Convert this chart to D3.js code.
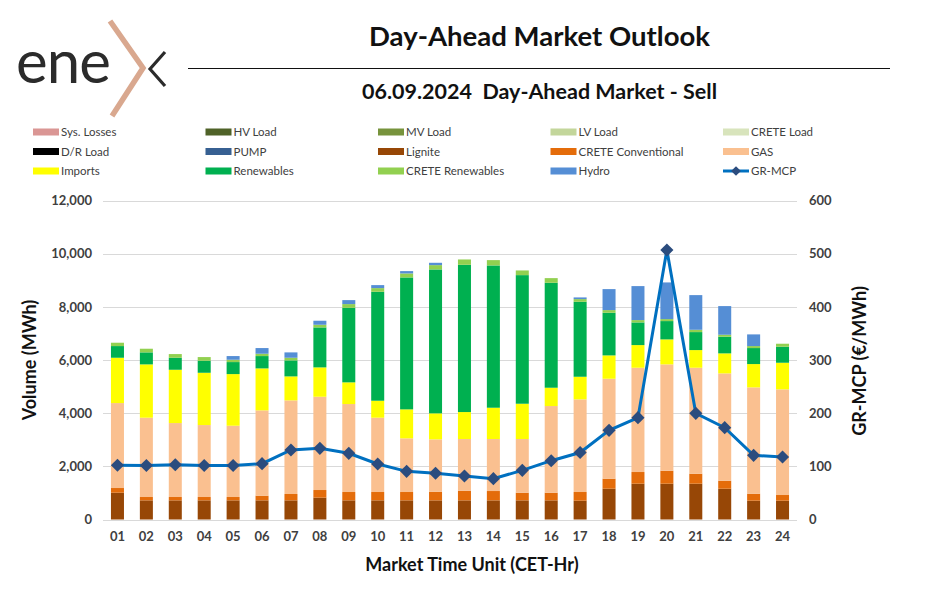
<!DOCTYPE html>
<html><head><meta charset="utf-8">
<script src="https://cdn.jsdelivr.net/npm/d3@7"></script>
<style>
body{margin:0;background:#fff;}
svg{display:block;font-family:"Open Sans",Lato,sans-serif;}
</style></head>
<body><svg id="c" width="950" height="591"></svg>
<script>
const hours = ["01","02","03","04","05","06","07","08","09","10","11","12","13","14","15","16","17","18","19","20","21","22","23","24"];
const sysLosses = new Array(24).fill(0);
const hvLoad = new Array(24).fill(0);
const mvLoad = new Array(24).fill(0);
const lvLoad = new Array(24).fill(0);
const creteLoad = new Array(24).fill(0);
const drLoad = new Array(24).fill(0);
const pump = new Array(24).fill(0);
const lignite = [1008,720,720,720,720,720,720,821,720,720,720,720,720,720,720,720,708,1159,1347,1347,1347,1159,708,708];
const creteConv = [176,126,126,126,126,176,239,288,314,314,314,326,364,351,288,288,326,376,439,489,375,300,263,213];
const gas = [3196,2984,2782,2707,2682,3209,3522,3509,3309,2796,2019,1969,1943,1956,2019,3260,3485,3760,3923,3999,3987,4037,3999,3974];
const imports = [1705,2005,2005,1967,1942,1579,902,1104,816,638,1090,978,1015,1178,1328,689,851,878,852,940,664,753,877,1002];
const renewables = [439,452,452,452,452,464,602,1504,2805,4098,4963,5414,5539,5352,4838,3948,2820,1604,853,689,677,626,602,602];
const creteRen = [126,137,138,138,88,88,100,100,139,138,150,162,201,200,176,175,101,100,87,75,87,75,75,113];
const hydro = [0,0,0,0,138,213,201,151,150,113,88,88,0,0,0,0,63,790,1279,1379,1304,1078,439,0];
const grMcp = [102,101.5,103,101.5,101.5,105,130.7,133.9,124.5,104.4,90.6,86.9,81.8,76.8,92.5,110.6,126,167.7,191.5,506.9,199.7,172.7,120.7,117.5];
const leftTicks = [0,2000,4000,6000,8000,10000,12000];
const rightTicks = [0,100,200,300,400,500,600];

const series = [
  {name:"Lignite", values:lignite, color:"#974706"},
  {name:"CRETE Conventional", values:creteConv, color:"#E46C0A"},
  {name:"GAS", values:gas, color:"#FAC090"},
  {name:"Imports", values:imports, color:"#FFFF00"},
  {name:"Renewables", values:renewables, color:"#00B050"},
  {name:"CRETE Renewables", values:creteRen, color:"#92D050"},
  {name:"Hydro", values:hydro, color:"#558ED5"},
  {name:"Sys. Losses", values:sysLosses, color:"#DA9694"},
  {name:"HV Load", values:hvLoad, color:"#4F6228"},
  {name:"MV Load", values:mvLoad, color:"#77933C"},
  {name:"LV Load", values:lvLoad, color:"#C3D69B"},
  {name:"CRETE Load", values:creteLoad, color:"#D8E4BC"},
  {name:"D/R Load", values:drLoad, color:"#000000"},
  {name:"PUMP", values:pump, color:"#376092"}
];
const legendOrder = ["Sys. Losses","HV Load","MV Load","LV Load","CRETE Load","D/R Load","PUMP","Lignite","CRETE Conventional","GAS","Imports","Renewables","CRETE Renewables","Hydro","GR-MCP"];

const svg = d3.select("#c");
const x0 = 103, x1 = 797, yTop = 200.5, yBot = 519.5;

// Logo
const logo = svg.append("g");
logo.append("text").attr("x",16).attr("y",83).attr("font-family","Lato").attr("font-weight",400)
  .attr("font-size",60).attr("fill","#2b2b2b").attr("letter-spacing",-1).text("ene");
logo.append("path").attr("d","M110,21 L143,68 L112,116").attr("fill","none").attr("stroke","#D9A88F").attr("stroke-width",5.5);
logo.append("path").attr("d","M165,52 L150,69 L165,86").attr("fill","none").attr("stroke","#2b2b2b").attr("stroke-width",3.2);

// Titles
svg.append("text").attr("x",539.5).attr("y",46).attr("text-anchor","middle").attr("font-family","Lato")
  .attr("font-weight",700).attr("font-size",26).attr("fill","#111")
  .attr("textLength",341).attr("lengthAdjust","spacingAndGlyphs").text("Day-Ahead Market Outlook");
svg.append("line").attr("x1",188).attr("x2",890).attr("y1",68.5).attr("y2",68.5).attr("stroke","#111").attr("stroke-width",1.2);
svg.append("text").attr("x",539.5).attr("y",99).attr("text-anchor","middle").attr("font-family","Lato")
  .attr("font-weight",700).attr("font-size",20).attr("fill","#111").attr("xml:space","preserve")
  .attr("textLength",355).attr("lengthAdjust","spacingAndGlyphs").text("06.09.2024  Day-Ahead Market - Sell");

// Scales
const x = d3.scaleBand().domain(hours).range([x0,x1]).paddingInner(0.55).paddingOuter(0.275);
const y = d3.scaleLinear().domain([0,12000]).range([yBot,yTop]);
const y2 = d3.scaleLinear().domain([0,600]).range([yBot,yTop]);

// Gridlines
svg.append("g").selectAll("line").data(leftTicks).join("line")
  .attr("x1",x0).attr("x2",x1).attr("y1",d=>Math.round(y(d))+0.5).attr("y2",d=>Math.round(y(d))+0.5)
  .attr("stroke","#D9D9D9").attr("stroke-width",1);

// Axes
const axL = svg.append("g").attr("transform",`translate(${x0},0)`)
  .call(d3.axisLeft(y).tickValues(leftTicks).tickSize(0).tickPadding(11).tickFormat(d3.format(",")));
const axR = svg.append("g").attr("transform",`translate(${x1},0)`)
  .call(d3.axisRight(y2).tickValues(rightTicks).tickSize(0).tickPadding(12));
const axB = svg.append("g").attr("transform",`translate(0,${yBot})`)
  .call(d3.axisBottom(x).tickSize(0).tickPadding(12));
[axL,axR,axB].forEach(a=>{
  a.select(".domain").remove();
  a.selectAll("text").attr("font-family","Lato").attr("font-weight",700).attr("font-size",13).attr("fill","#404040");
});

// Stacked bars
const table = hours.map((h,i)=>{const o={hour:h}; series.forEach(s=>o[s.name]=s.values[i]); return o;});
const stack = d3.stack().keys(series.map(s=>s.name))(table);
const colorOf = Object.fromEntries(series.map(s=>[s.name,s.color]));
svg.append("g").selectAll("g").data(stack).join("g").attr("fill",d=>colorOf[d.key])
  .selectAll("rect").data(d=>d.filter(p=>p[1]-p[0]>0)).join("rect")
  .attr("x",d=>x(d.data.hour)).attr("width",x.bandwidth())
  .attr("y",d=>y(d[1])).attr("height",d=>y(d[0])-y(d[1]));

// Line
const line = d3.line().x((d,i)=>x(hours[i])+x.bandwidth()/2).y(d=>y2(d));
svg.append("path").datum(grMcp).attr("d",line).attr("fill","none").attr("stroke","#0070C0").attr("stroke-width",3);
const diamond = d3.symbol().type(d3.symbolDiamond2).size(110);
svg.append("g").selectAll("path").data(grMcp).join("path")
  .attr("transform",(d,i)=>`translate(${x(hours[i])+x.bandwidth()/2},${y2(d)})`)
  .attr("d",diamond).attr("fill","#2B4C7E");

// Axis titles
svg.append("text").attr("transform","translate(36,360) rotate(-90)").attr("text-anchor","middle")
  .attr("font-family","Lato").attr("font-weight",700).attr("font-size",18).attr("fill","#111").text("Volume (MWh)");
svg.append("text").attr("transform","translate(866,361) rotate(-90)").attr("text-anchor","middle")
  .attr("font-family","Lato").attr("font-weight",700).attr("font-size",18).attr("fill","#111").text("GR-MCP (€/MWh)");
svg.append("text").attr("x",472).attr("y",571).attr("text-anchor","middle")
  .attr("font-family","Lato").attr("font-weight",700).attr("font-size",18).attr("fill","#111").text("Market Time Unit (CET-Hr)");

// Legend
const leg = svg.append("g");
legendOrder.forEach((name,i)=>{
  const col = i%5, row = Math.floor(i/5);
  const lx = 33 + col*172.5, ly = 132 + row*19.5;
  const g = leg.append("g").attr("transform",`translate(${lx},${ly})`);
  if(name==="GR-MCP"){
    g.append("line").attr("x1",0).attr("x2",26).attr("y1",0).attr("y2",0).attr("stroke","#0070C0").attr("stroke-width",3);
    g.append("path").attr("transform","translate(13,0)").attr("d",d3.symbol().type(d3.symbolDiamond2).size(60)).attr("fill","#2B4C7E");
  } else {
    g.append("rect").attr("x",0).attr("y",-3.5).attr("width",26).attr("height",7).attr("fill",colorOf[name]);
  }
  g.append("text").attr("x",28).attr("y",4).attr("font-family","Lato").attr("font-size",11.5).attr("fill","#404040").text(name);
});
</script></body></html>
